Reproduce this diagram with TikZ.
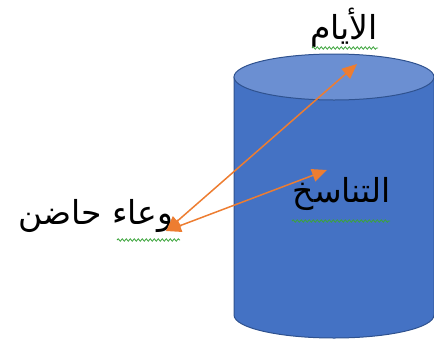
\documentclass[tikz,border=0pt]{standalone}
\usepackage{fontspec}
\usetikzlibrary{arrows.meta,decorations.pathmorphing}
\TeXXeTstate=1
\newfontfamily\arabicfont[Script=Arabic]{DejaVu Sans}
\definecolor{cylside}{HTML}{4472C4}
\definecolor{cyltop}{HTML}{6B8FD2}
\definecolor{cyledge}{HTML}{2F528F}
\definecolor{linkorange}{HTML}{ED7D31}
\definecolor{spellgreen}{HTML}{3BA33B}
\tikzset{
  label text/.style={inner sep=0pt, text=black, font=\arabicfont\fontsize{33}{36}\selectfont},
  link/.style={draw=linkorange, line width=1.5pt,
    {Triangle[length=15pt,width=13pt]}-{Triangle[length=15pt,width=13pt]}},
  squiggle/.style={draw=spellgreen, line width=0.8pt,
    decorate, decoration={snake, amplitude=1.2pt, segment length=4pt}}
}
\begin{document}
\begin{tikzpicture}[x=1pt,y=-1pt]
  \useasboundingbox (0,0) rectangle (434,341);
  \begin{scope}
    \clip (0,0) rectangle (434,341);
    % cylinder body
    \path[fill=cylside, draw=cyledge, line width=1pt]
      (234,77) -- (234,315) arc[start angle=180, end angle=0, x radius=100, y radius=23]
      -- (434,77) -- cycle;
    % cylinder lid
    \path[fill=cyltop, draw=cyledge, line width=1pt]
      (334,77) ellipse[x radius=100, y radius=23];
  \end{scope}

  % labels
  \node[label text] (days) at (344,28) {\beginR الأيام\endR};
  \node[label text] (trans) at (342,194) {\beginR التناسخ\endR};
  \node[label text] (vessel) at (96,216) {\beginR وعاء حاضن\endR};

  % spell-check underlines
  \draw[squiggle] (312,48) -- (378,48);
  \draw[squiggle] (292,221) -- (390,221);
  \draw[squiggle] (117,240) -- (180,240);

  % connectors
  \coordinate (vend) at (166,231);
  \coordinate (dend) at (357,64);
  \coordinate (tend) at (327,170);
  \draw[link] (vend) -- (dend);
  \draw[link] (vend) -- (tend);
\end{tikzpicture}
\end{document}
